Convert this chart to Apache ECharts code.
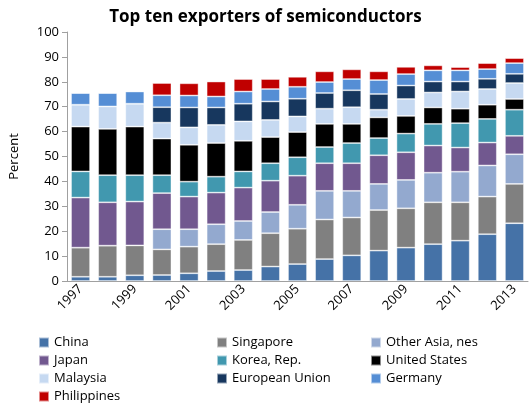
<!DOCTYPE html>
<html>
<head>
<meta charset="utf-8">
<script src="https://cdn.jsdelivr.net/npm/echarts@6/dist/echarts.min.js"></script>
<style>
  html, body { margin: 0; padding: 0; background: #fff; }
  #chart { width: 531px; height: 407px; }
</style>
</head>
<body>
<div id="chart"></div>
<script>
// Share of world semiconductor exports, percent
const years = ['1997','1998','1999','2000','2001','2002','2003','2004','2005','2006','2007','2008','2009','2010','2011','2012','2013'];

const china       = [1.7, 1.7, 2.3, 2.4, 3.1, 4.0, 4.4, 5.8, 6.8, 8.8, 10.3, 12.2, 13.4, 14.8, 16.2, 18.8, 23.2];
const singapore   = [11.7, 12.5, 12.0, 10.3, 10.7, 10.8, 12.1, 13.4, 14.2, 15.9, 15.2, 16.3, 15.8, 16.8, 15.4, 15.1, 15.8];
const otherAsia   = [0, 0, 0, 8.1, 7.0, 8.0, 7.6, 8.5, 9.6, 11.5, 10.7, 10.5, 11.4, 11.9, 12.3, 12.5, 11.9];
const japan       = [20.1, 17.4, 17.6, 14.5, 13.1, 12.7, 13.4, 12.6, 11.7, 11.1, 11.1, 11.5, 11.1, 10.9, 9.7, 9.2, 7.4];
const korea       = [10.5, 10.9, 10.6, 7.2, 6.0, 6.4, 6.5, 7.0, 7.4, 6.5, 8.1, 6.9, 7.5, 8.7, 9.8, 9.5, 10.5];
const unitedStates= [18.0, 18.6, 19.5, 14.7, 14.8, 13.5, 12.3, 10.5, 10.1, 9.3, 7.7, 8.3, 7.1, 6.6, 5.8, 5.7, 4.3];
const malaysia    = [8.8, 9.0, 9.2, 6.4, 7.0, 7.3, 7.8, 6.9, 6.3, 6.1, 6.7, 3.1, 6.8, 6.0, 6.9, 6.3, 6.4];
const eu          = [0, 0, 0, 6.2, 8.0, 7.0, 7.1, 7.4, 7.1, 6.3, 6.8, 6.3, 5.4, 4.4, 4.0, 4.1, 3.7];
const germany     = [4.7, 5.4, 4.9, 4.8, 4.8, 4.4, 4.9, 5.0, 4.8, 4.4, 4.5, 5.6, 4.6, 4.5, 4.5, 3.9, 4.3];
const philippines = [0, 0, 0, 4.9, 4.9, 6.0, 5.0, 4.0, 4.0, 4.3, 3.9, 3.5, 2.9, 2.0, 1.3, 2.4, 2.0];

const yTicks = [0, 10, 20, 30, 40, 50, 60, 70, 80, 90, 100];

const seriesDefs = [
  ['China', china, '#4572A7'],
  ['Singapore', singapore, '#808080'],
  ['Other Asia, nes', otherAsia, '#93A9CF'],
  ['Japan', japan, '#71588F'],
  ['Korea, Rep.', korea, '#4198AF'],
  ['United States', unitedStates, '#000000'],
  ['Malaysia', malaysia, '#C6D9F1'],
  ['European Union', eu, '#17375E'],
  ['Germany', germany, '#558ED5'],
  ['Philippines', philippines, '#C00000']
];

const FONT = 'Open Sans';

const series = seriesDefs.map(([name, data, color]) => ({
  name: name,
  type: 'bar',
  stack: 'total',
  barCategoryGap: '30%',
  data: data,
  itemStyle: { color: color, borderColor: 'rgba(255,255,255,0.55)', borderWidth: 0.8 },
  emphasis: { disabled: true }
}));

// Legend: three columns, entries laid out row by row
const legendCols = [38, 216, 370];
const legendRows = [336, 354, 372, 390];
const legends = seriesDefs.map(([name], i) => ({
  left: legendCols[i % 3],
  top: legendRows[Math.floor(i / 3)],
  padding: 0,
  itemWidth: 10,
  itemHeight: 10,
  itemGap: 4,
  icon: 'rect',
  data: [name],
  textStyle: { fontFamily: FONT, fontSize: 13, color: '#000' },
  selectedMode: false
}));

const chart = echarts.init(document.getElementById('chart'));
chart.setOption({
  animation: false,
  title: {
    text: 'Top ten exporters of semiconductors',
    left: 'center',
    top: 4,
    textStyle: { fontFamily: FONT, fontSize: 17, fontWeight: 'bold', color: '#000' }
  },
  grid: { left: 67, right: 3, top: 32, bottom: 126, containLabel: false },
  legend: legends,
  xAxis: {
    type: 'category',
    data: years,
    axisLine: { lineStyle: { color: '#a0a0a0' } },
    axisTick: { alignWithLabel: false, interval: 0, length: 5, lineStyle: { color: '#a0a0a0' } },
    axisLabel: {
      interval: 1,
      rotate: 45,
      fontFamily: FONT,
      fontSize: 13,
      color: '#000',
      margin: 6
    }
  },
  yAxis: {
    type: 'value',
    min: yTicks[0],
    max: yTicks[yTicks.length - 1],
    interval: 10,
    name: 'Percent',
    nameLocation: 'middle',
    nameGap: 46,
    nameTextStyle: { fontFamily: FONT, fontSize: 13, color: '#000' },
    axisLine: { show: true, lineStyle: { color: '#a0a0a0' } },
    axisTick: { show: true, length: 5, lineStyle: { color: '#a0a0a0' } },
    splitLine: { show: false },
    axisLabel: { fontFamily: FONT, fontSize: 13, color: '#000', margin: 8 }
  },
  series: series
});
</script>
</body>
</html>
